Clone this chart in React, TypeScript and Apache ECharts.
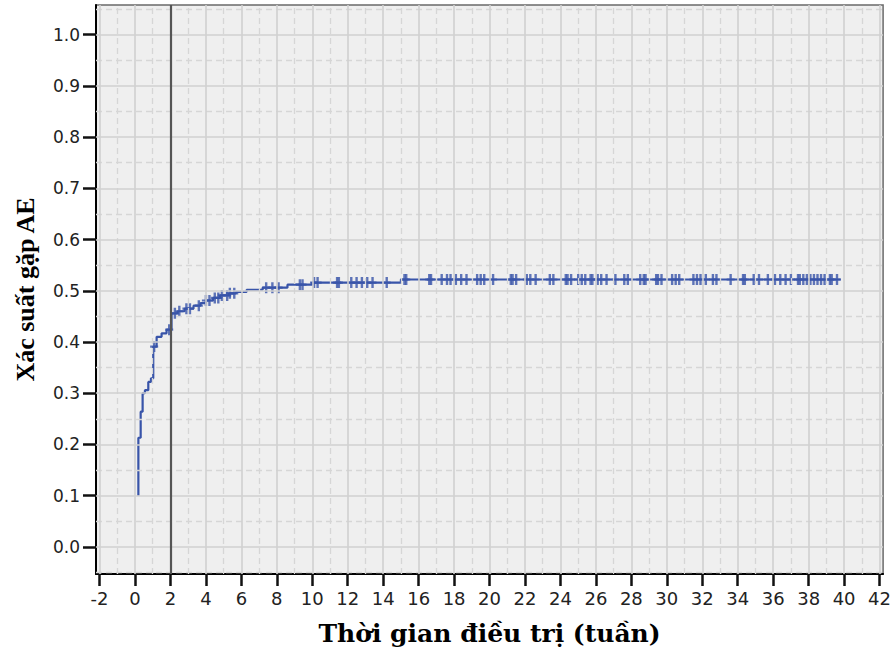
import React, { useEffect, useRef } from "react";
import * as echarts from "echarts";

// Axis tick labels / grid positions
const xTicks = [-2, 0, 2, 4, 6, 8, 10, 12, 14, 16, 18, 20, 22, 24, 26, 28, 30, 32, 34, 36, 38, 40, 42];
const xMinorGrid = [-1, 1, 3, 5, 7, 9, 11, 13, 15, 17, 19, 21, 23, 25, 27, 29, 31, 33, 35, 37, 39, 41];
const yTicks = [0.0, 0.1, 0.2, 0.3, 0.4, 0.5, 0.6, 0.7, 0.8, 0.9, 1.0];
const yMinorGrid = [-0.05, 0.05, 0.15, 0.25, 0.35, 0.45, 0.55, 0.65, 0.75, 0.85, 0.95, 1.05];
const referenceWeek = 2;

// Cumulative incidence (1 - survival) step function
const eventTimes = [0.19, 0.19, 0.32, 0.43, 0.56, 0.75, 0.9, 1.03, 1.22, 1.5, 1.78, 2.06, 2.4, 2.8, 3.3, 3.7, 4.0, 4.4, 4.8, 5.3, 5.7, 6.3, 7.2, 8.6, 10.0, 15.0, 39.8];
const cumProb = [0.1, 0.213, 0.264, 0.3, 0.306, 0.322, 0.329, 0.391, 0.41, 0.417, 0.424, 0.456, 0.46, 0.465, 0.471, 0.476, 0.481, 0.486, 0.491, 0.495, 0.498, 0.502, 0.506, 0.512, 0.516, 0.522, 0.522];

// Censored observations (weeks)
const censorTimes = [1.08, 1.93, 2.25, 2.5, 2.9, 3.1, 3.6, 4.0, 4.2, 4.5, 4.7, 4.9, 5.2, 5.35, 5.6, 7.4, 7.75, 8.1, 9.3, 9.45, 10.1, 10.3, 11.4, 11.5, 12.2, 12.5, 12.8, 13.1, 13.4, 14.2, 15.2, 15.3, 16.6, 16.7, 17.3, 17.6, 17.8, 18.1, 18.4, 18.7, 19.3, 19.5, 19.7, 20.2, 21.2, 21.3, 21.5, 22.1, 22.3, 22.6, 23.4, 23.6, 24.3, 24.4, 24.6, 25.0, 25.2, 25.4, 25.7, 25.8, 26.1, 26.3, 26.6, 27.1, 27.6, 27.8, 28.5, 28.7, 28.8, 29.4, 29.5, 29.7, 30.3, 30.5, 30.7, 31.5, 31.7, 31.9, 32.2, 32.6, 32.8, 33.6, 34.3, 34.4, 34.9, 35.2, 35.7, 36.1, 36.4, 36.7, 37.0, 37.4, 37.5, 37.7, 37.9, 38.1, 38.3, 38.5, 38.7, 38.9, 39.2, 39.3, 39.6];

function probAt(t: number): number {
  let v = cumProb[0];
  for (let i = 0; i < eventTimes.length; i++) {
    if (eventTimes[i] <= t) v = cumProb[i];
    else break;
  }
  return v;
}

const CURVE = "#3854A9";
const PLUS = "path://M3.5,0H6.5V4H10V6H6.5V10H3.5V6H0V4H3.5Z";

export default function App() {
  const ref = useRef<HTMLDivElement>(null);
  useEffect(() => {
    const chart = echarts.init(ref.current as HTMLDivElement, null, { renderer: "svg" });
    const gridData: any[] = [];
    xMinorGrid.forEach((v) => gridData.push({ xAxis: v, lineStyle: { type: [6, 4], color: "#D6D6D6", width: 1.3 } }));
    yMinorGrid.forEach((v) => gridData.push({ yAxis: v, lineStyle: { type: [6, 4], color: "#D6D6D6", width: 1.3 } }));
    xTicks.forEach((v) => gridData.push({ xAxis: v, lineStyle: { type: "solid", color: "#D0D0D0", width: 1.6 } }));
    yTicks.forEach((v) => gridData.push({ yAxis: v, lineStyle: { type: "solid", color: "#D0D0D0", width: 1.6 } }));
    gridData.push({ xAxis: referenceWeek, lineStyle: { type: "solid", color: "#555555", width: 2.2 } });

    chart.setOption({
      animation: false,
      backgroundColor: "#ffffff",
      grid: {
        left: 96,
        top: 5,
        right: 9,
        bottom: 72,
        show: true,
        backgroundColor: "#EFEFEF",
        borderColor: "#6A6A6A",
        borderWidth: 1.5,
      },
      xAxis: {
        type: "value",
        min: -2.2,
        max: 42.2,
        axisLine: { show: true, onZero: false, lineStyle: { color: "#000", width: 2 } },
        axisTick: { show: true, customValues: xTicks, length: 12, lineStyle: { color: "#111", width: 2.5 } },
        axisLabel: { customValues: xTicks, margin: 15, fontFamily: "DejaVu Sans", fontSize: 18, color: "#222" },
        splitLine: { show: false },
        name: "Thời gian điều trị (tuần)",
        nameLocation: "middle",
        nameGap: 47,
        nameTextStyle: { fontFamily: "DejaVu Serif", fontWeight: "bold", fontSize: 25, color: "#000" },
      },
      yAxis: {
        type: "value",
        min: -0.053,
        max: 1.058,
        axisLine: { show: true, onZero: false, lineStyle: { color: "#000", width: 2 } },
        axisTick: { show: true, customValues: yTicks, length: 13, lineStyle: { color: "#111", width: 2.5 } },
        axisLabel: {
          customValues: yTicks,
          margin: 16,
          fontFamily: "DejaVu Sans",
          fontSize: 17,
          color: "#222",
          formatter: (v: number) => v.toFixed(1),
        },
        splitLine: { show: false },
        name: "Xác suất gặp AE",
        nameLocation: "middle",
        nameRotate: 90,
        nameGap: 58,
        nameTextStyle: { fontFamily: "Liberation Serif", fontWeight: "bold", fontSize: 26, color: "#000" },
      },
      series: [
        {
          type: "line",
          data: [],
          silent: true,
          z: 1,
          markLine: {
            silent: true,
            symbol: ["none", "none"],
            label: { show: false },
            animation: false,
            emphasis: { disabled: true },
            data: gridData,
          },
        },
        {
          type: "line",
          step: "end",
          data: eventTimes.map((t, i) => [t, cumProb[i]]),
          showSymbol: false,
          symbol: "none",
          lineStyle: { color: CURVE, width: 2.2 },
          z: 3,
        },
        {
          type: "scatter",
          data: censorTimes.map((t) => [t, probAt(t)]),
          symbol: PLUS,
          symbolSize: [8, 11],
          itemStyle: { color: CURVE },
          z: 4,
        },
      ],
    });
    return () => chart.dispose();
  }, []);
  return <div ref={ref} style={{ position: "fixed", left: 0, top: 0, width: 894, height: 651 }} />;
}
